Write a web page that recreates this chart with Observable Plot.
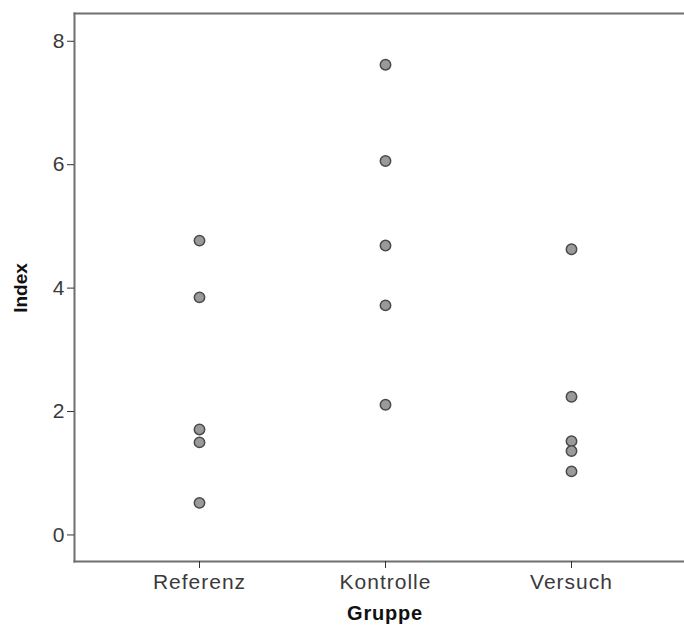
<!DOCTYPE html>
<html>
<head>
<meta charset="utf-8">
<script src="https://cdn.jsdelivr.net/npm/d3@7"></script>
<script src="https://cdn.jsdelivr.net/npm/@observablehq/plot@0.6"></script>
<style>
  html, body { margin: 0; padding: 0; background: #fff; }
  svg { display: block; }
  g[aria-label="x-axis tick label"] text { letter-spacing: 1px; }
</style>
</head>
<body>
<div id="chart"></div>
<script>
const groups = ["Referenz", "Kontrolle", "Versuch"];
const referenz = [4.77, 3.85, 1.71, 1.50, 0.52];
const kontrolle = [7.62, 6.06, 4.69, 3.72, 2.11];
const versuch = [4.63, 2.24, 1.52, 1.36, 1.03];
const yTicks = [0, 2, 4, 6, 8];

const data = [
  ...referenz.map(v => ({group: groups[0], value: v})),
  ...kontrolle.map(v => ({group: groups[1], value: v})),
  ...versuch.map(v => ({group: groups[2], value: v}))
];

const plot = Plot.plot({
  width: 684,
  height: 628,
  marginLeft: 74,
  marginRight: 0,
  marginTop: 13,
  marginBottom: 67,
  style: {fontFamily: "'Liberation Sans', Arial, sans-serif", fontSize: "21px", color: "#222", background: "#fff"},
  x: {type: "point", domain: groups, range: [198, 571], padding: 0, label: null},
  y: {domain: [-0.43, 8.45], label: null},
  marks: [
    Plot.frame({anchor: "top", stroke: "#6e6e6e", strokeWidth: 2}),
    Plot.frame({anchor: "bottom", stroke: "#6e6e6e", strokeWidth: 2}),
    Plot.frame({anchor: "left", stroke: "#6e6e6e", strokeWidth: 2}),
    Plot.axisY({ticks: yTicks, tickSize: 7, tickPadding: 3, stroke: "#333", fill: "#3a3a3a", fontSize: 21, label: null}),
    Plot.axisX({tickSize: 7, tickPadding: 6, stroke: "#333", fill: "#3a3a3a", fontSize: 21, label: null}),
    Plot.dot(data, {x: "group", y: "value", r: 5.2, fill: "#9a9a9a", stroke: "#4a4a4a", strokeWidth: 1.5})
  ]
});

const svg = d3.select(plot);
svg.append("text")
  .attr("transform", "translate(22,288) rotate(-90)")
  .attr("text-anchor", "middle")
  .attr("dominant-baseline", "middle")
  .attr("font-family", "'Liberation Sans', Arial, sans-serif")
  .attr("font-weight", "bold")
  .attr("font-size", 19)
  .attr("fill", "#111")
  .text("Index");
svg.append("text")
  .attr("x", 385)
  .attr("y", 615)
  .attr("text-anchor", "middle")
  .attr("dominant-baseline", "middle")
  .attr("font-family", "'Liberation Sans', Arial, sans-serif")
  .attr("font-weight", "bold")
  .attr("font-size", 20)
  .attr("letter-spacing", "0.8px")
  .attr("fill", "#111")
  .text("Gruppe");

document.getElementById("chart").appendChild(plot);
</script>
</body>
</html>
